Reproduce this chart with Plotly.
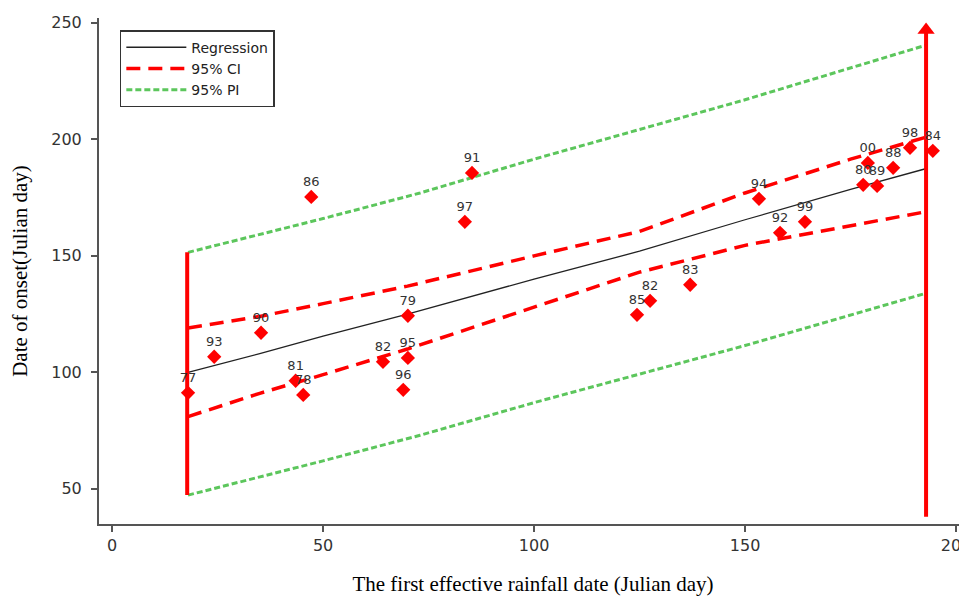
import plotly.graph_objects as go

# ---- data ----
years = ["77", "93", "90", "86", "81", "78", "82", "79", "95", "96", "97", "91",
         "85", "82", "83", "94", "92", "99", "80", "00", "89", "88", "98", "84"]
rain_day = [18.0, 24.2, 35.3, 47.2, 43.5, 45.3, 64.2, 70.1, 70.1, 69.0, 83.6, 85.3,
            124.4, 127.5, 137.0, 153.3, 158.3, 164.2, 178.0, 179.1, 181.3, 185.1, 189.1, 194.5]
onset_day = [91.2, 106.7, 117.0, 175.3, 96.4, 90.3, 104.5, 124.3, 106.2, 92.5, 164.6, 185.6,
             124.7, 130.7, 137.6, 174.5, 159.9, 164.6, 180.5, 189.9, 180.0, 187.8, 196.4, 195.1]

line_x = [18, 35, 50, 70, 100, 125, 150, 175, 193]
regression = [100, 108, 115.5, 125, 140, 152, 165.5, 178.5, 187.5]
ci_upper = [119, 124, 129.5, 137, 150, 160.5, 177, 191.5, 201]
ci_lower = [81, 91, 99, 110, 128, 143, 154.5, 163, 169]

pi_x = [18, 50, 73, 100, 150, 193]
pi_upper = [151.5, 166, 177, 191.5, 217, 240.5]
pi_lower = [47.3, 62, 73, 87, 111.5, 134]

left_bar_x = [17.8, 17.8]
left_bar_y = [47.3, 151.5]
right_bar_x = [192.9, 192.9]
right_bar_y = [38, 247]

x_ticks = [0, 50, 100, 150, 200]
y_ticks = [50, 100, 150, 200, 250]

RED = "#ff0000"
GREEN = "#5cc65c"

fig = go.Figure()

fig.add_trace(go.Scatter(x=line_x, y=regression, mode="lines", name="Regression",
                         line=dict(color="#222222", width=1.3)))
fig.add_trace(go.Scatter(x=line_x, y=ci_upper, mode="lines", name="95% CI",
                         line=dict(color=RED, width=3.5, dash="14px,8px")))
fig.add_trace(go.Scatter(x=line_x, y=ci_lower, mode="lines", name="95% CI", showlegend=False,
                         line=dict(color=RED, width=3.5, dash="14px,8px")))
fig.add_trace(go.Scatter(x=pi_x, y=pi_upper, mode="lines", name="95% PI",
                         line=dict(color=GREEN, width=3, dash="6px,3px")))
fig.add_trace(go.Scatter(x=pi_x, y=pi_lower, mode="lines", name="95% PI", showlegend=False,
                         line=dict(color=GREEN, width=3, dash="6px,3px")))

fig.add_trace(go.Scatter(x=left_bar_x, y=left_bar_y, mode="lines", showlegend=False,
                         line=dict(color=RED, width=4)))
fig.add_trace(go.Scatter(x=right_bar_x, y=right_bar_y, mode="lines+markers", showlegend=False,
                         line=dict(color=RED, width=4),
                         marker=dict(symbol=["line-ew", "triangle-up"], size=[0, 15],
                                     color=RED, opacity=1, line=dict(width=0))))

fig.add_trace(go.Scatter(x=rain_day, y=onset_day, mode="markers+text", text=years,
                         textposition="top center", showlegend=False,
                         textfont=dict(family="DejaVu Sans", size=13, color="#333333"),
                         marker=dict(symbol="diamond", size=11, color=RED)))

# the page body adds an 8px offset; margins compensate so the plot lands where the reference has it
fig.update_layout(
    width=967, height=601,
    margin=dict(l=91, r=8, t=10, b=85, autoexpand=False),
    paper_bgcolor="white", plot_bgcolor="white",
    showlegend=True,
    legend=dict(x=0.024, y=0.976, xanchor="left", yanchor="top",
                bgcolor="white", bordercolor="#333333", borderwidth=1.5,
                font=dict(family="DejaVu Sans", size=14, color="#222222"),
                entrywidth=190, itemwidth=60, tracegroupgap=2),
    xaxis=dict(range=[-3.1, 202.6], tickvals=x_ticks, showgrid=False, zeroline=False,
               automargin=False,
               showline=True, linecolor="#555555", linewidth=2,
               ticks="outside", ticklen=6, tickwidth=2, tickcolor="#555555",
               tickfont=dict(family="DejaVu Sans", size=16, color="#333333"),
               title=dict(text="The first effective rainfall date (Julian day)", standoff=22,
                          font=dict(family="Liberation Serif", size=21, color="black"))),
    yaxis=dict(range=[34.9, 252.1], tickvals=y_ticks, showgrid=False, zeroline=False,
               automargin=False, ticklabelstandoff=6,
               showline=True, linecolor="#555555", linewidth=2,
               ticks="outside", ticklen=6, tickwidth=2, tickcolor="#555555",
               tickfont=dict(family="DejaVu Sans", size=16, color="#333333"),
               title=dict(text="Date of onset(Julian day)", standoff=24,
                          font=dict(family="Liberation Serif", size=21, color="black"))),
)

fig.write_html("out.html")
